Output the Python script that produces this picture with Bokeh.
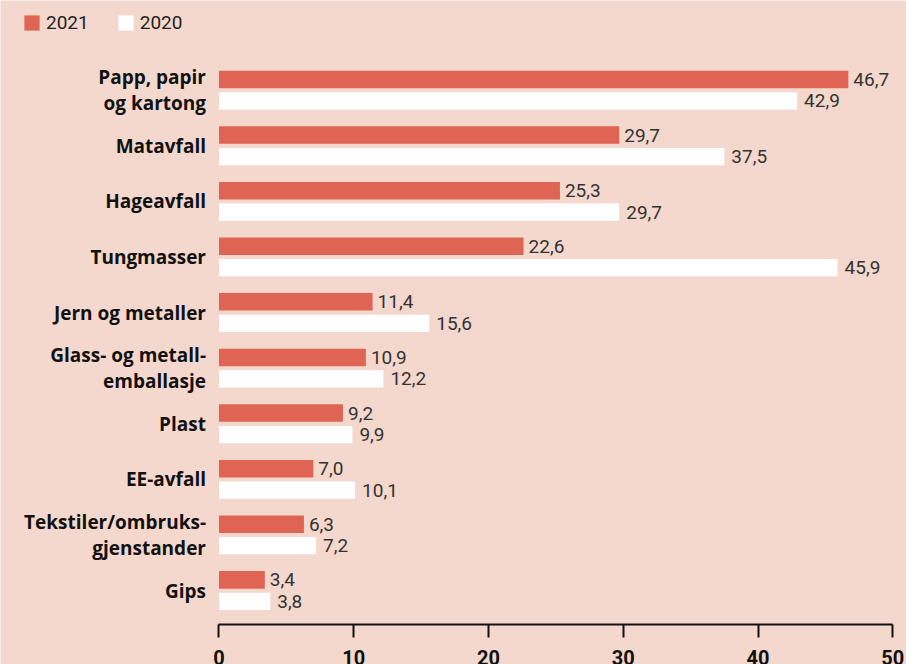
from bokeh.plotting import figure
from bokeh.models import Range1d, FixedTicker, LinearAxis, Legend, LegendItem, ColumnDataSource
from bokeh.core.properties import value
from bokeh.embed import file_html
from bokeh.resources import INLINE

# ---- data ----
categories = [
    "Papp, papir\nog kartong",
    "Matavfall",
    "Hageavfall",
    "Tungmasser",
    "Jern og metaller",
    "Glass- og metall-\nemballasje",
    "Plast",
    "EE-avfall",
    "Tekstiler/ombruks-\ngjenstander",
    "Gips",
]
val_2021 = [46.7, 29.7, 25.3, 22.6, 11.4, 10.9, 9.2, 7.0, 6.3, 3.4]
val_2020 = [42.9, 37.5, 29.7, 45.9, 15.6, 12.2, 9.9, 10.1, 7.2, 3.8]
series_names = ["2021", "2020"]
x_ticks = [0, 10, 20, 30, 40, 50]

# ---- styles ----
BG = "#f4d8cd"
RED = "#e06454"
WHITE = "#ffffff"
FONT = "Roboto"
LABEL_FONT = "Open Sans"

pos = list(range(len(categories)))
fmt = lambda v: f"{v:.1f}".replace(".", ",")
src = ColumnDataSource(dict(
    y=pos,
    zero=[0] * len(pos),
    cat=categories,
    y21=[i - 0.193 for i in pos],
    y20=[i + 0.193 for i in pos],
    v21=val_2021,
    v20=val_2020,
    t21=[fmt(v) for v in val_2021],
    t20=[fmt(v) for v in val_2020],
))

p = figure(
    width=906, height=664,
    output_backend="svg", toolbar_location=None,
    x_range=Range1d(-16.214, 51.017), y_range=Range1d(10.329, -1.613),
    min_border_left=0, min_border_right=0, min_border_top=0, min_border_bottom=0,
    x_axis_location=None, y_axis_location=None,
)
p.background_fill_color = BG
p.border_fill_color = BG
p.outline_line_color = None
p.xgrid.visible = False
p.ygrid.visible = False

r21 = p.hbar(y="y21", left=0, right="v21", height=0.315, fill_color=RED,
             line_color=None, source=src)
r20 = p.hbar(y="y20", left=0, right="v20", height=0.31, fill_color=WHITE,
             line_color=None, source=src)

# value labels
p.text(x="v21", y="y21", text="t21", x_offset=5, text_baseline="middle",
       text_align="left", text_font=value(FONT), text_font_size="19px",
       text_color="#333333", source=src)
p.text(x="v20", y="y20", text="t20", x_offset=7, text_baseline="middle",
       text_align="left", text_font=value(FONT), text_font_size="19px",
       text_color="#333333", source=src)

# category labels
p.text(x="zero", y="y", text="cat", x_offset=-13, text_baseline="middle",
       text_align="right", text_font=value(LABEL_FONT), text_font_style="bold",
       text_font_size="19px", text_color="#111111", text_line_height=1.0,
       source=src)

# x axis (drawn inside the frame at a fixed location, limited to 0..50)
xa = LinearAxis(
    fixed_location=9.61,
    bounds=(0, 50),
    ticker=FixedTicker(ticks=x_ticks),
    axis_line_width=2, axis_line_color="#111111",
    major_tick_line_width=2, major_tick_line_color="#111111",
    major_tick_out=13, major_tick_in=0,
    minor_tick_line_color=None,
    major_label_standoff=12,
    major_label_text_font=FONT,
    major_label_text_font_style="bold",
    major_label_text_font_size="20px",
    major_label_text_color="#111111",
)
p.add_layout(xa, "below")

legend = Legend(
    items=[LegendItem(label=series_names[0], renderers=[r21]),
           LegendItem(label=series_names[1], renderers=[r20])],
    orientation="horizontal",
    location=(22, 630),
    glyph_width=19, glyph_height=19, label_height=19,
    label_standoff=5, spacing=27,
    padding=0, margin=0,
    border_line_color=None, background_fill_alpha=0,
    label_text_font=FONT, label_text_font_size="19px",
    label_text_color="#222222",
)
p.add_layout(legend)

open("out.html", "w").write(file_html(p, INLINE))
